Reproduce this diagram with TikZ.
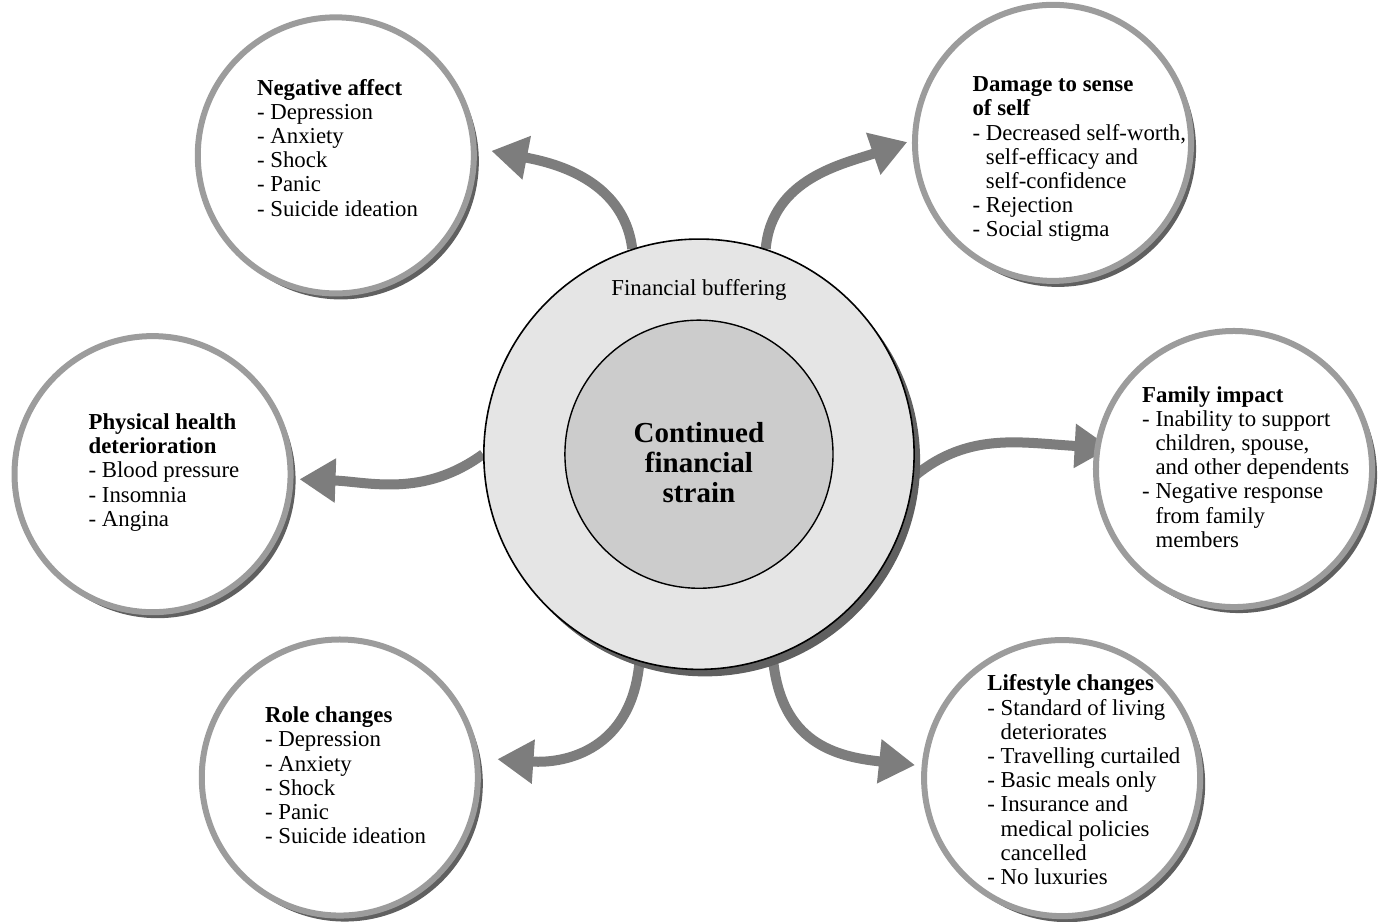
\documentclass[tikz,border=0pt]{standalone}
\usepackage{fontspec}
\setmainfont{Liberation Serif}
\usepackage{tikz}
\usetikzlibrary{arrows.meta,positioning,shadows,backgrounds}
\definecolor{rimgray}{RGB}{156,156,156}
\definecolor{shadegray}{RGB}{96,96,96}
\definecolor{arrowgray}{RGB}{125,125,125}
\definecolor{ringfill}{RGB}{229,229,229}
\definecolor{corefill}{RGB}{204,204,204}
\newcommand{\ind}{\phantom{- }}
\tikzset{
  topic/.style={circle,draw=rimgray,line width=3pt,fill=white,minimum size=4.85cm,inner sep=0pt,
    drop shadow={shadow xshift=2.5pt,shadow yshift=-3pt,fill=shadegray,opacity=1}},
  ring/.style={circle,draw=black,line width=0.8pt,fill=ringfill,minimum size=7.56cm,inner sep=0pt,
    drop shadow={shadow xshift=3pt,shadow yshift=-3.5pt,fill=shadegray,opacity=1}},
  core/.style={circle,draw=black,line width=0.7pt,fill=corefill,minimum size=4.71cm,inner sep=0pt},
  txt/.style={align=left,inner sep=0pt,anchor=north west,font=\fontsize{11.4}{12.1}\selectfont},
  flow/.style={-{Triangle[length=18pt,width=21pt]},line width=5pt,draw=arrowgray},
}
\begin{document}
\begin{tikzpicture}
\useasboundingbox (-12.28,-8.21) rectangle (12.07,7.98);
\node[ring] (buf) at (0,0) {};
\node[core] (cen) at (0,0) {};
\node[font=\fontsize{11.4}{12.1}\selectfont,anchor=base,inner sep=0pt] (bufT) at (0,2.79) {Financial buffering};
\node[font=\bfseries\fontsize{14.5}{15}\selectfont,align=center,anchor=north,inner sep=0pt] (cenT) at (0,0.57) {Continued\\financial\\strain};
\node[topic] (neg) at (-6.38,5.25) {};
\node[topic] (self) at (6.22,5.47) {};
\node[topic] (phys) at (-9.60,-0.35) {};
\node[topic] (fam) at (9.40,-0.26) {};
\node[topic] (role) at (-6.31,-5.68) {};
\node[topic] (life) at (6.38,-5.69) {};
\node[txt] (negT) at (-7.77,6.60) {\textbf{Negative affect}\\- Depression\\- Anxiety\\- Shock\\- Panic\\- Suicide ideation};
\node[txt] (selfT) at (4.80,6.64) {\textbf{Damage to sense}\\\textbf{of self}\\- Decreased self-worth,\\\ind self-efficacy and\\\ind self-confidence\\- Rejection\\- Social stigma};
\node[txt] (physT) at (-10.73,0.72) {\textbf{Physical health}\\\textbf{deterioration}\\- Blood pressure\\- Insomnia\\- Angina};
\node[txt] (famT) at (7.78,1.20) {\textbf{Family impact}\\- Inability to support\\\ind children, spouse,\\\ind and other dependents\\- Negative response\\\ind from family\\\ind members};
\node[txt] (roleT) at (-7.63,-4.43) {\textbf{Role changes}\\- Depression\\- Anxiety\\- Shock\\- Panic\\- Suicide ideation};
\node[txt] (lifeT) at (5.06,-3.87) {\textbf{Lifestyle changes}\\- Standard of living\\\ind deteriorates\\- Travelling curtailed\\- Basic meals only\\- Insurance and\\\ind medical policies\\\ind cancelled\\- No luxuries};
\begin{scope}[on background layer]
\draw[flow,shorten >=7.5pt] (buf.108) to[out=97,in=-11] (neg.3);
\draw[flow,shorten >=2.5pt] (buf.72) to[out=85,in=199] (self.179);
\draw[flow,shorten >=3pt] (buf.180) to[out=216,in=-2] (phys.-2);
\draw[flow,shorten >=-8pt] (buf.-6) to[out=40,in=177] (fam.171);
\draw[flow,shorten >=9pt] (buf.-106) to[out=-95,in=-4,looseness=1.2] (role.8);
\draw[flow,shorten >=3.3pt] (buf.-70) to[out=-85,in=174,looseness=1.2] (life.175);
\end{scope}
\end{tikzpicture}
\end{document}
